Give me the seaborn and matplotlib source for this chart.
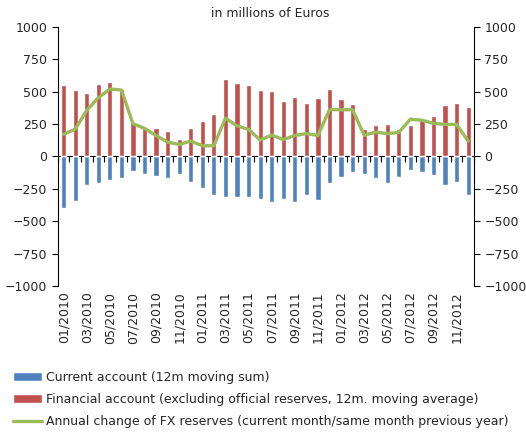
import pandas as pd
import matplotlib.pyplot as plt
import seaborn as sns
import numpy as np

# Data
months = [f'{m:02d}/{y}' for y in (2010, 2011, 2012) for m in range(1, 13)]
current_account = [-400, -344, -218, -202, -186, -168, -113, -139, -155, -170, -139, -197,
                   -244, -296, -312, -312, -312, -331, -350, -328, -355, -296, -336, -205,
                   -160, -121, -139, -170, -205, -160, -102, -121, -147, -221, -197, -296]
financial_account = [549, 512, 489, 555, 573, 523, 255, 229, 221, 195, 132, 221,
                     273, 329, 597, 565, 549, 512, 507, 431, 462, 413, 447, 523,
                     439, 405, 210, 239, 252, 210, 239, 287, 313, 397, 413, 378]
fx_reserves = [171, 210, 355, 452, 520, 512, 252, 216, 161, 110, 92, 118,
               82, 82, 295, 236, 208, 126, 165, 129, 161, 176, 161, 360,
               360, 360, 163, 187, 176, 184, 287, 279, 255, 247, 247, 118]

df = pd.DataFrame({'month': months, 'ca': current_account,
                   'fa': financial_account, 'fx': fx_reserves})

BLUE, RED, GREEN = '#4F81BD', '#C0504D', '#9BBB59'
FS = 9
lab_ca = 'Current account (12m moving sum)'
lab_fa = 'Financial account (excluding official reserves, 12m. moving average)'
lab_fx = 'Annual change of FX reserves (current month/same month previous year)'

sns.set_style('white')
plt.rcParams['font.family'] = ['DejaVu Sans']

fig = plt.figure(figsize=(5.26, 4.32), dpi=100)
ax = fig.add_axes([0.110, 0.338, 0.791, 0.600])

sns.barplot(data=df, x='month', y='ca', color=BLUE, width=0.45,
            saturation=1, ax=ax, label=lab_ca)
sns.barplot(data=df, x='month', y='fa', color=RED, width=0.45,
            saturation=1, ax=ax, label=lab_fa)
sns.lineplot(x=np.arange(len(df)), y=df['fx'], color=GREEN, linewidth=2.4, ax=ax,
             label=lab_fx)

ax.set_xlim(-0.5, len(df) - 0.5)
ax.set_ylim(-1000, 1000)
ax.set_yticks(np.arange(-1000, 1001, 250))
ax.set_xlabel('')
ax.set_ylabel('')
ax.set_xticks(np.arange(0, len(df), 2))
ax.set_xticklabels(months[::2], rotation=90, fontsize=FS)
ax.tick_params(axis='x', length=0, pad=4)
ax.tick_params(axis='y', labelsize=FS, length=4, direction='out', left=True, color='black')
for s in ['top', 'right', 'bottom']:
    ax.spines[s].set_visible(False)
ax.spines['left'].set_color('black')

# zero line with category ticks pointing down
zero = ax.secondary_xaxis(0.5)
zero.xaxis.set_ticks_position('bottom')
zero.set_xticks(np.arange(-0.5, len(df), 1))
zero.set_xticklabels([])
zero.tick_params(axis='x', length=4, direction='out', color='black',
                 bottom=True, top=False, labelbottom=False, labeltop=False)
for s in zero.spines.values():
    s.set_color('black')

# right axis mirrors left
ax2 = ax.twinx()
ax2.set_ylim(-1000, 1000)
ax2.set_yticks(np.arange(-1000, 1001, 250))
ax2.tick_params(axis='y', labelsize=FS, length=4, direction='out', right=True, color='black')
for s in ['top', 'left', 'bottom']:
    ax2.spines[s].set_visible(False)
ax2.spines['right'].set_color('black')
ax2.grid(False)

fig.text(0.513, 0.968, 'in millions of Euros', ha='center', va='center', fontsize=FS)

handles, labels = ax.get_legend_handles_labels()
order = [labels.index(l) for l in (lab_ca, lab_fa, lab_fx)]
ax.get_legend().remove()
fig.legend([handles[i] for i in order], [labels[i] for i in order],
           loc='upper left', bbox_to_anchor=(0.025, 0.142),
           frameon=False, fontsize=FS, handlelength=2.3, handletextpad=0.3,
           labelspacing=0.75, borderpad=0, borderaxespad=0)

plt.savefig('out.png', dpi=100)
